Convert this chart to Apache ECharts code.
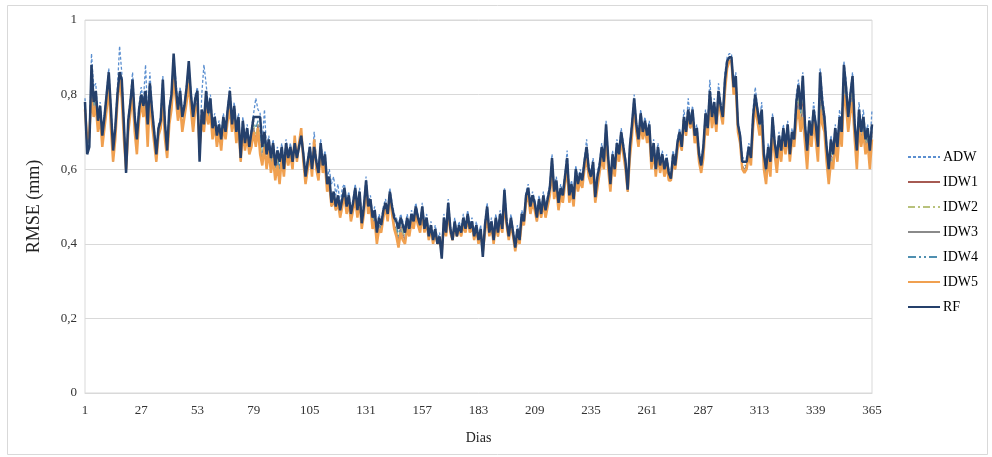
<!DOCTYPE html>
<html>
<head>
<meta charset="utf-8">
<script src="https://cdn.jsdelivr.net/npm/echarts@6/dist/echarts.min.js"></script>
<style>
  html, body { margin: 0; padding: 0; background: #fff; }
  #chart { width: 992px; height: 457px; }
</style>
</head>
<body>
<div id="chart"></div>
<script>
// dias 1..365
const days = []
for (let d = 1; d <= 365; d++) days.push(String(d))

const yTicks = [0, 0.2, 0.4, 0.6, 0.8, 1]

// valores de RMSE (mm), um por dia (linhas de 26 dias)
const adw = [
  .79,.65,.67,.91,.82,.83,.74,.78,.70,.75,.81,.87,.77,.66,.72,.82,.93,.86,.73,.60,.74,.79,.86,.75,.69,.77,
  .82,.78,.88,.74,.86,.77,.71,.65,.72,.74,.85,.73,.66,.77,.81,.90,.84,.77,.82,.75,.78,.83,.88,.81,.75,.80,
  .82,.63,.80,.88,.83,.77,.80,.72,.75,.70,.73,.69,.75,.71,.77,.82,.73,.78,.71,.75,.64,.74,.68,.72,.67,.71,
  .75,.79,.76,.75,.67,.76,.65,.69,.64,.68,.62,.66,.63,.67,.61,.68,.64,.67,.63,.68,.64,.67,.70,.65,.59,.63,
  .67,.61,.70,.63,.60,.68,.62,.65,.57,.60,.56,.58,.53,.56,.50,.55,.56,.51,.54,.49,.52,.56,.50,.55,.47,.51,
  .58,.51,.53,.48,.50,.44,.48,.46,.50,.52,.49,.55,.51,.48,.47,.45,.48,.46,.44,.48,.45,.49,.47,.51,.48,.46,
  .51,.45,.48,.43,.46,.42,.45,.41,.43,.38,.48,.44,.52,.45,.42,.47,.43,.46,.44,.48,.45,.49,.45,.47,.43,.46,
  .42,.45,.38,.46,.51,.44,.47,.42,.48,.44,.49,.45,.55,.47,.43,.48,.44,.40,.45,.42,.49,.47,.54,.56,.51,.54,
  .52,.48,.53,.49,.54,.50,.53,.56,.64,.55,.58,.52,.56,.54,.59,.65,.54,.57,.53,.61,.57,.60,.58,.63,.68,.61,
  .59,.63,.54,.59,.62,.67,.63,.73,.64,.57,.65,.61,.68,.65,.71,.67,.63,.56,.67,.73,.80,.73,.69,.76,.71,.74,
  .70,.73,.63,.68,.61,.67,.62,.65,.61,.64,.60,.59,.65,.62,.68,.71,.67,.76,.71,.79,.73,.77,.70,.72,.65,.62,
  .67,.76,.72,.84,.75,.79,.73,.83,.78,.75,.86,.90,.91,.91,.83,.86,.73,.70,.63,.63,.63,.67,.64,.76,.82,.77,
  .73,.78,.65,.61,.67,.63,.75,.68,.64,.70,.66,.72,.67,.73,.65,.71,.69,.80,.84,.77,.86,.73,.66,.74,.70,.78,
  .73,.67,.87,.80,.75,.67,.61,.69,.65,.72,.67,.76,.71,.89,.84,.75,.81,.86,.73,.66,.78,.71,.76,.69,.72,.66,.76
]
const idw1 = [
  .77,.67,.69,.81,.75,.78,.71,.75,.67,.72,.77,.83,.72,.63,.69,.79,.85,.80,.69,.60,.71,.76,.81,.71,.65,.74,
  .79,.75,.79,.68,.81,.73,.68,.63,.70,.72,.80,.69,.64,.73,.77,.86,.80,.74,.78,.71,.75,.79,.85,.77,.71,.77,
  .78,.65,.74,.71,.78,.73,.76,.69,.73,.67,.71,.66,.73,.69,.74,.78,.71,.75,.68,.73,.62,.71,.66,.70,.65,.67,
  .71,.68,.72,.66,.62,.67,.61,.66,.60,.64,.58,.62,.58,.64,.59,.66,.62,.65,.61,.68,.62,.66,.70,.63,.57,.61,
  .65,.59,.67,.61,.58,.66,.60,.62,.55,.57,.50,.53,.49,.52,.48,.51,.54,.49,.52,.47,.50,.53,.48,.53,.45,.49,
  .56,.49,.51,.45,.47,.41,.45,.44,.48,.50,.47,.53,.49,.45,.44,.41,.45,.43,.41,.45,.43,.47,.45,.49,.46,.44,
  .49,.44,.46,.42,.44,.41,.43,.40,.41,.37,.46,.43,.50,.44,.41,.45,.42,.44,.43,.46,.44,.47,.44,.45,.42,.44,
  .40,.43,.37,.44,.48,.43,.45,.41,.46,.42,.47,.44,.52,.45,.42,.46,.43,.39,.43,.41,.47,.45,.52,.54,.49,.52,
  .50,.47,.51,.48,.52,.48,.51,.54,.61,.53,.56,.50,.54,.52,.57,.61,.52,.55,.51,.59,.55,.58,.56,.61,.64,.59,
  .57,.60,.52,.56,.60,.64,.61,.70,.61,.55,.63,.59,.66,.63,.69,.65,.61,.54,.64,.70,.78,.71,.67,.73,.69,.72,
  .68,.71,.61,.66,.59,.65,.60,.63,.59,.62,.58,.57,.63,.60,.66,.69,.65,.73,.69,.75,.71,.75,.68,.70,.63,.60,
  .64,.73,.70,.79,.72,.76,.71,.80,.76,.73,.82,.88,.89,.89,.81,.83,.71,.68,.61,.60,.61,.65,.62,.72,.78,.74,
  .70,.73,.62,.58,.64,.60,.72,.65,.61,.67,.63,.70,.65,.71,.63,.69,.67,.75,.78,.72,.78,.69,.62,.71,.67,.74,
  .70,.64,.80,.75,.72,.64,.58,.64,.62,.69,.64,.72,.68,.84,.79,.72,.77,.81,.70,.62,.74,.68,.72,.66,.69,.62,.70
]
const idw2 = [
  .77,.66,.68,.83,.76,.79,.71,.76,.67,.72,.78,.84,.74,.63,.70,.79,.85,.82,.70,.60,.72,.76,.82,.72,.66,.74,
  .79,.75,.79,.69,.81,.74,.68,.63,.70,.72,.81,.70,.64,.74,.78,.87,.80,.75,.79,.72,.75,.80,.86,.78,.72,.77,
  .79,.65,.74,.71,.79,.73,.77,.69,.73,.67,.71,.66,.73,.69,.74,.79,.71,.75,.68,.73,.62,.71,.66,.70,.65,.68,
  .72,.69,.72,.68,.63,.67,.62,.66,.61,.65,.59,.63,.59,.64,.59,.66,.62,.65,.61,.68,.62,.66,.70,.63,.57,.61,
  .65,.59,.66,.61,.58,.65,.60,.62,.55,.57,.50,.53,.49,.52,.48,.51,.54,.49,.51,.47,.50,.53,.48,.53,.45,.49,
  .56,.49,.51,.45,.48,.42,.45,.44,.48,.50,.47,.53,.49,.45,.44,.41,.45,.43,.42,.45,.43,.47,.45,.49,.46,.44,
  .49,.44,.46,.42,.44,.41,.43,.40,.41,.37,.46,.43,.50,.44,.41,.45,.42,.44,.43,.46,.44,.47,.44,.45,.42,.44,
  .41,.43,.37,.44,.48,.43,.45,.41,.46,.42,.47,.44,.52,.46,.42,.46,.43,.39,.43,.41,.47,.46,.52,.54,.49,.52,
  .50,.47,.51,.48,.52,.48,.51,.54,.61,.53,.56,.50,.54,.52,.57,.61,.52,.55,.51,.59,.55,.58,.56,.61,.64,.59,
  .57,.60,.52,.56,.60,.64,.61,.70,.61,.55,.63,.59,.66,.63,.69,.65,.61,.54,.64,.70,.78,.71,.67,.73,.69,.72,
  .68,.71,.61,.66,.59,.65,.60,.63,.59,.62,.58,.57,.63,.60,.66,.69,.65,.73,.70,.75,.72,.75,.68,.70,.63,.60,
  .64,.73,.70,.79,.72,.76,.71,.80,.76,.73,.82,.88,.89,.89,.81,.83,.71,.68,.61,.60,.61,.65,.62,.72,.78,.74,
  .70,.74,.62,.58,.64,.60,.72,.65,.61,.67,.63,.70,.65,.71,.63,.69,.67,.76,.79,.73,.80,.70,.63,.71,.67,.74,
  .70,.64,.81,.75,.72,.64,.58,.65,.62,.69,.64,.72,.68,.84,.79,.72,.77,.81,.70,.63,.74,.68,.72,.66,.69,.63,.70
]
const idw3 = [
  .77,.66,.69,.80,.75,.78,.71,.75,.66,.72,.77,.82,.72,.62,.69,.79,.84,.80,.69,.60,.71,.75,.81,.71,.65,.73,
  .78,.75,.78,.67,.80,.73,.68,.62,.70,.71,.79,.69,.63,.73,.77,.85,.80,.74,.78,.71,.74,.79,.84,.77,.71,.76,
  .78,.65,.73,.71,.77,.73,.76,.69,.72,.67,.71,.66,.72,.69,.74,.77,.71,.75,.68,.72,.62,.71,.66,.69,.65,.67,
  .71,.67,.71,.65,.62,.66,.61,.65,.60,.64,.58,.62,.57,.64,.59,.65,.62,.64,.61,.68,.62,.66,.70,.63,.57,.60,
  .64,.59,.67,.61,.58,.65,.60,.62,.55,.56,.50,.53,.49,.51,.48,.51,.53,.49,.51,.47,.50,.52,.48,.52,.45,.49,
  .55,.49,.51,.45,.47,.41,.45,.43,.48,.50,.47,.53,.48,.45,.43,.40,.44,.42,.41,.45,.43,.46,.45,.48,.46,.44,
  .49,.44,.46,.41,.44,.40,.43,.40,.41,.37,.46,.43,.49,.44,.41,.45,.42,.44,.42,.46,.44,.47,.44,.45,.41,.44,
  .40,.43,.38,.43,.48,.43,.45,.41,.46,.42,.47,.43,.52,.45,.42,.46,.43,.39,.43,.41,.47,.45,.52,.53,.49,.52,
  .50,.46,.51,.47,.52,.48,.51,.54,.61,.53,.56,.50,.54,.52,.56,.61,.52,.55,.51,.58,.55,.58,.56,.60,.64,.59,
  .57,.60,.52,.56,.60,.64,.61,.70,.61,.55,.62,.59,.66,.63,.68,.65,.61,.54,.64,.70,.77,.71,.67,.73,.69,.72,
  .68,.70,.61,.66,.59,.65,.60,.63,.59,.62,.58,.57,.63,.60,.66,.69,.65,.73,.69,.75,.71,.74,.68,.70,.63,.60,
  .64,.73,.70,.79,.72,.76,.71,.79,.76,.73,.82,.87,.89,.89,.81,.83,.71,.68,.61,.60,.61,.65,.62,.72,.78,.74,
  .70,.73,.61,.57,.64,.59,.71,.65,.60,.67,.63,.70,.65,.71,.63,.69,.67,.74,.77,.71,.76,.68,.61,.71,.67,.74,
  .69,.63,.78,.74,.71,.63,.57,.63,.61,.68,.63,.71,.67,.82,.78,.71,.76,.80,.69,.61,.73,.67,.71,.65,.68,.61,.69
]
const idw4 = [
  .77,.65,.67,.85,.77,.80,.72,.76,.68,.73,.79,.85,.75,.64,.70,.79,.86,.83,.71,.60,.72,.77,.83,.73,.67,.75,
  .79,.76,.80,.70,.82,.75,.69,.63,.70,.72,.82,.71,.64,.75,.79,.88,.81,.75,.80,.73,.76,.81,.87,.79,.73,.78,
  .80,.64,.75,.71,.80,.74,.78,.70,.73,.68,.71,.67,.73,.69,.75,.80,.71,.76,.69,.73,.63,.72,.66,.70,.65,.69,
  .73,.71,.73,.70,.64,.68,.63,.67,.62,.66,.60,.64,.60,.65,.59,.66,.62,.65,.61,.68,.62,.66,.70,.63,.57,.61,
  .65,.59,.67,.61,.58,.66,.60,.63,.55,.57,.51,.53,.50,.52,.48,.51,.54,.49,.52,.47,.50,.54,.48,.53,.45,.49,
  .56,.49,.51,.46,.48,.42,.46,.44,.48,.51,.47,.54,.49,.46,.45,.42,.46,.44,.42,.46,.43,.47,.45,.49,.46,.44,
  .49,.44,.46,.42,.44,.41,.43,.40,.41,.37,.46,.43,.50,.44,.41,.45,.42,.44,.43,.46,.44,.47,.44,.45,.42,.44,
  .41,.43,.37,.44,.49,.43,.45,.41,.46,.43,.47,.44,.53,.46,.42,.46,.43,.39,.43,.41,.47,.46,.52,.54,.50,.52,
  .50,.47,.51,.48,.52,.48,.51,.54,.62,.53,.56,.50,.54,.52,.57,.62,.52,.55,.51,.59,.55,.58,.56,.61,.65,.59,
  .57,.61,.52,.57,.60,.65,.61,.71,.62,.55,.63,.59,.66,.63,.69,.65,.61,.54,.65,.71,.78,.71,.67,.74,.69,.72,
  .68,.71,.61,.66,.59,.65,.60,.63,.59,.62,.58,.57,.63,.61,.66,.69,.66,.74,.70,.76,.72,.75,.68,.70,.63,.60,
  .65,.74,.70,.80,.73,.77,.71,.80,.76,.73,.83,.88,.90,.90,.81,.84,.71,.68,.61,.61,.61,.65,.62,.73,.79,.75,
  .71,.75,.63,.59,.65,.61,.73,.66,.62,.68,.64,.70,.65,.71,.63,.69,.67,.77,.81,.75,.83,.71,.64,.72,.68,.75,
  .71,.65,.84,.77,.73,.65,.59,.67,.63,.70,.65,.73,.69,.86,.81,.73,.79,.83,.71,.64,.75,.69,.73,.67,.70,.64,.71
]
const idw5 = [
  .76,.68,.70,.79,.74,.77,.70,.74,.66,.71,.76,.82,.71,.62,.68,.78,.84,.79,.68,.60,.70,.75,.80,.70,.64,.73,
  .78,.74,.78,.66,.80,.72,.67,.62,.69,.71,.78,.68,.63,.72,.76,.84,.79,.73,.77,.70,.74,.78,.83,.76,.70,.76,
  .77,.66,.73,.70,.76,.72,.75,.68,.72,.66,.70,.65,.72,.68,.73,.76,.70,.74,.67,.72,.62,.70,.65,.69,.64,.66,
  .70,.66,.71,.64,.61,.66,.60,.65,.59,.63,.57,.61,.56,.63,.58,.65,.61,.64,.60,.69,.62,.67,.71,.62,.56,.60,
  .64,.58,.68,.60,.57,.65,.59,.61,.54,.56,.50,.52,.49,.51,.47,.50,.53,.48,.51,.46,.49,.52,.47,.52,.44,.48,
  .55,.48,.50,.44,.46,.40,.44,.43,.47,.50,.46,.53,.48,.44,.42,.39,.43,.41,.40,.44,.42,.46,.44,.48,.45,.43,
  .48,.43,.46,.41,.44,.40,.43,.40,.41,.38,.45,.42,.49,.43,.41,.45,.42,.44,.42,.45,.43,.47,.43,.45,.41,.44,
  .40,.43,.38,.43,.47,.42,.45,.40,.45,.42,.46,.43,.51,.45,.41,.45,.42,.38,.42,.40,.46,.45,.51,.53,.48,.51,
  .49,.46,.50,.47,.51,.47,.50,.53,.60,.52,.55,.49,.53,.51,.56,.60,.51,.54,.50,.58,.54,.57,.55,.60,.63,.58,
  .56,.59,.51,.55,.59,.63,.60,.69,.60,.54,.62,.58,.65,.62,.68,.64,.60,.54,.63,.69,.77,.70,.66,.72,.68,.71,
  .67,.70,.60,.65,.58,.64,.59,.62,.58,.61,.57,.57,.62,.60,.65,.68,.65,.73,.69,.75,.71,.74,.67,.69,.62,.59,
  .63,.72,.69,.78,.71,.75,.70,.79,.75,.72,.81,.87,.89,.89,.80,.82,.70,.67,.60,.59,.60,.64,.61,.71,.77,.73,
  .69,.72,.60,.56,.63,.58,.70,.64,.59,.66,.62,.69,.64,.70,.62,.68,.66,.73,.76,.70,.74,.67,.60,.70,.66,.73,
  .68,.62,.76,.72,.70,.62,.56,.62,.60,.67,.62,.70,.66,.80,.77,.70,.75,.78,.68,.60,.72,.66,.70,.64,.67,.60,.68
]
const rf = [
  .78,.64,.66,.88,.78,.81,.73,.77,.69,.74,.80,.86,.76,.65,.71,.80,.86,.84,.72,.59,.73,.78,.84,.74,.68,.76,
  .80,.77,.81,.72,.83,.76,.70,.64,.71,.73,.84,.72,.65,.76,.80,.91,.82,.76,.81,.74,.77,.82,.89,.80,.74,.79,
  .81,.62,.76,.72,.81,.75,.79,.71,.74,.69,.72,.68,.74,.70,.76,.81,.72,.77,.70,.74,.63,.73,.67,.71,.66,.70,
  .74,.74,.74,.74,.66,.70,.64,.68,.63,.67,.61,.65,.62,.66,.60,.67,.63,.66,.62,.67,.63,.66,.69,.64,.58,.62,
  .66,.60,.66,.62,.59,.67,.61,.64,.56,.58,.51,.54,.50,.53,.49,.52,.55,.50,.53,.48,.51,.55,.49,.54,.455,.50,
  .57,.50,.52,.47,.49,.43,.47,.45,.49,.51,.48,.54,.50,.47,.46,.44,.47,.45,.43,.47,.44,.48,.46,.50,.47,.45,
  .50,.44,.47,.42,.45,.41,.44,.40,.42,.36,.47,.43,.51,.44,.41,.46,.42,.45,.43,.47,.44,.48,.44,.46,.42,.45,
  .41,.44,.365,.45,.50,.43,.46,.41,.47,.43,.48,.44,.545,.46,.42,.47,.43,.39,.44,.41,.48,.46,.53,.55,.50,.53,
  .51,.47,.52,.48,.53,.49,.52,.55,.63,.54,.57,.51,.55,.53,.58,.63,.53,.56,.52,.60,.56,.59,.57,.62,.66,.60,
  .58,.62,.525,.58,.61,.66,.62,.72,.63,.56,.64,.60,.67,.64,.70,.66,.62,.545,.66,.72,.79,.72,.68,.75,.70,.73,
  .69,.72,.62,.67,.60,.66,.61,.64,.60,.63,.59,.575,.64,.61,.67,.70,.66,.74,.70,.76,.72,.76,.69,.71,.64,.61,
  .66,.75,.71,.81,.74,.78,.72,.81,.77,.74,.84,.89,.90,.90,.82,.85,.72,.69,.62,.62,.62,.66,.63,.74,.80,.76,
  .72,.76,.64,.60,.66,.62,.74,.67,.63,.69,.65,.71,.66,.72,.64,.70,.68,.78,.825,.76,.85,.72,.65,.73,.69,.76,
  .72,.66,.86,.78,.74,.66,.60,.68,.64,.71,.66,.74,.70,.88,.82,.74,.80,.85,.72,.65,.76,.70,.74,.68,.71,.65,.72
]

const serif = 'Liberation Serif'

function lineSeries (name, data, color, width, dash) {
  return {
    name: name,
    type: 'line',
    data: data,
    symbol: 'none',
    lineStyle: { color: color, width: width, type: dash || 'solid' },
    itemStyle: { color: color }
  }
}

const chart = echarts.init(document.getElementById('chart'))
chart.setOption({
  animation: false,
  backgroundColor: '#fff',
  textStyle: { fontFamily: serif },
  graphic: [{
    type: 'rect',
    shape: { x: 7.5, y: 5.5, width: 980, height: 449 },
    style: { fill: 'none', stroke: '#d9d9d9', lineWidth: 1 },
    silent: true
  }],
  grid: {
    left: 85, right: 120, top: 20, bottom: 64,
    show: true, borderColor: '#d9d9d9', borderWidth: 1
  },
  legend: {
    orient: 'vertical',
    left: 902,
    top: 145,
    itemWidth: 32,
    itemHeight: 14,
    itemGap: 11,
    // só a linha, sem o símbolo
    itemStyle: { color: 'rgba(0,0,0,0)', borderColor: 'rgba(0,0,0,0)', borderWidth: 0 },
    textStyle: { fontFamily: serif, fontSize: 14, color: '#000', padding: [0, 0, 0, -2] },
    data: ['ADW', 'IDW1', 'IDW2', 'IDW3', 'IDW4', 'IDW5', 'RF']
  },
  xAxis: {
    type: 'category',
    data: days,
    boundaryGap: false,
    name: 'Dias',
    nameLocation: 'middle',
    nameGap: 38,
    nameTextStyle: { fontFamily: serif, fontSize: 14, color: '#222' },
    axisLine: { lineStyle: { color: '#d9d9d9' } },
    axisTick: { show: false },
    axisLabel: { interval: 25, margin: 11, fontFamily: serif, fontSize: 13, color: '#333' },
    splitLine: { show: false }
  },
  yAxis: {
    type: 'value',
    min: yTicks[0],
    max: yTicks[yTicks.length - 1],
    interval: 0.2,
    name: 'RMSE (mm)',
    nameLocation: 'middle',
    nameGap: 42,
    nameTextStyle: { fontFamily: serif, fontSize: 18, color: '#222' },
    axisLine: { show: false },
    axisTick: { show: false },
    axisLabel: {
      margin: 8, fontFamily: serif, fontSize: 13, color: '#333',
      formatter: function (v) { return String(Math.round(v * 10) / 10).replace('.', ',') }
    },
    splitLine: { lineStyle: { color: '#d9d9d9' } }
  },
  series: [
    lineSeries('ADW', adw, '#5b8fd0', 1.3, [3, 2]),
    lineSeries('IDW1', idw1, '#a65a52', 1),
    lineSeries('IDW2', idw2, '#b8c27c', 1.2, [7, 3, 2, 3]),
    lineSeries('IDW3', idw3, '#8a8a8a', 1),
    lineSeries('IDW4', idw4, '#4f8fb0', 1.2, [8, 3, 2, 3, 2, 3]),
    lineSeries('IDW5', idw5, '#f0a050', 2.5),
    lineSeries('RF', rf, '#25406b', 2.5)
  ]
})
window.onresize = function () { chart.resize() }
</script>
</body>
</html>
